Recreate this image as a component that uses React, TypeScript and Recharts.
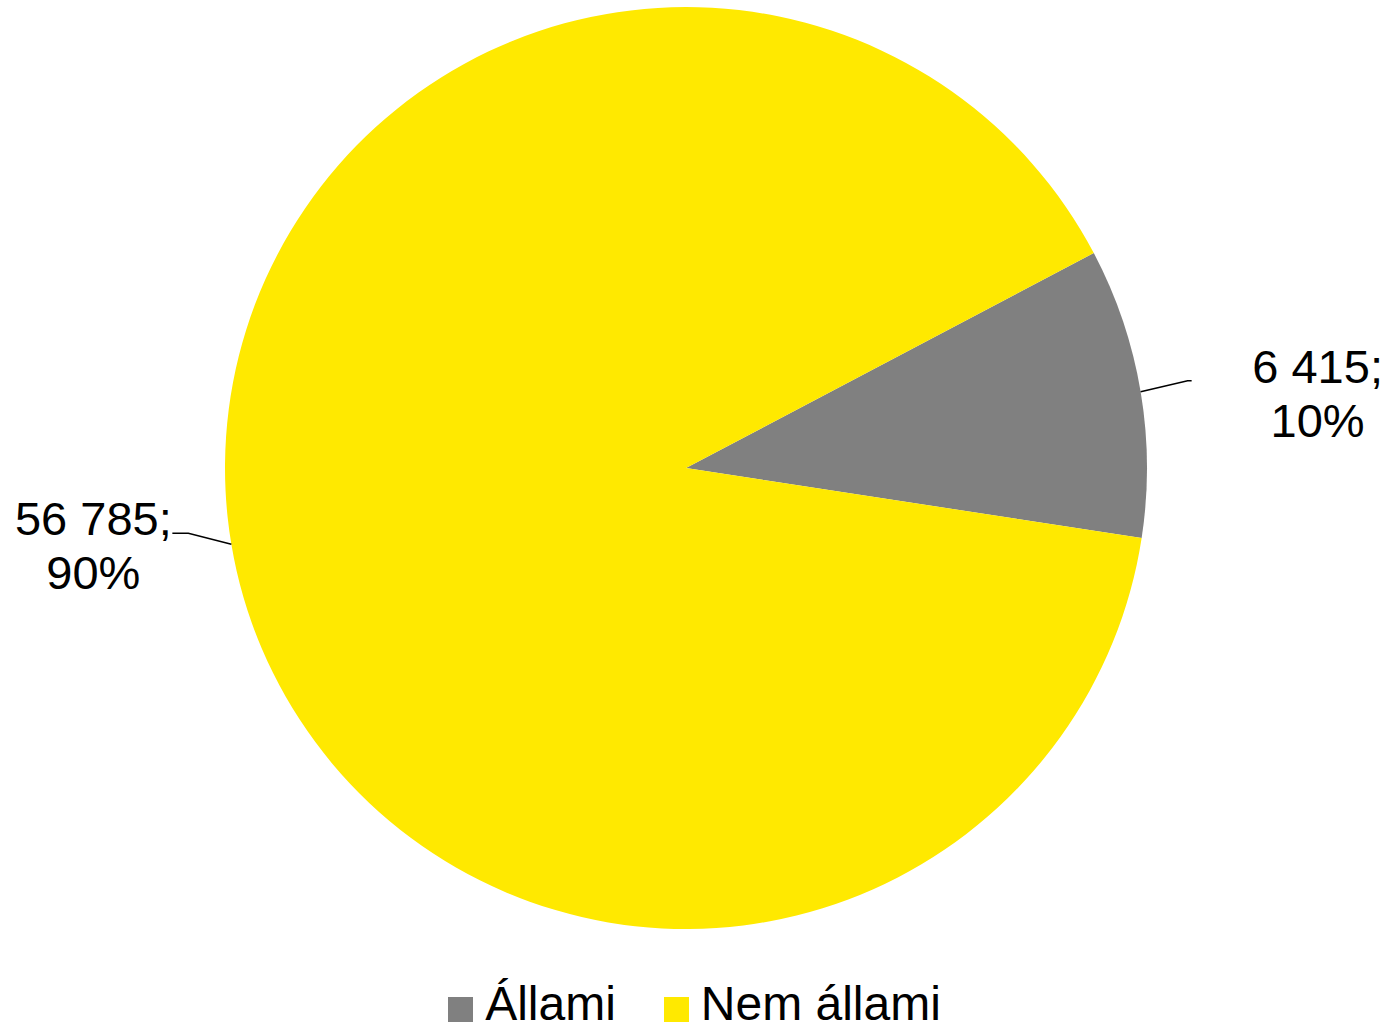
import * as React from 'react';
import { PieChart, Pie, Cell, Legend } from 'recharts';

const CATEGORIES = ['Állami', 'Nem állami'];
const VALUES = [6415, 56785];
const COLORS = ['#808080', '#FFE900'];

const FONT = '"Liberation Sans", Arial, sans-serif';
const RAD = Math.PI / 180;

const chartData = CATEGORIES.map((name, i) => ({ name, value: VALUES[i] }));

const fmt = (v: number): string => String(v).replace(/\B(?=(\d{3})+(?!\d))/g, ' ');

function renderLabel(props: any): React.ReactElement {
  const { cx, cy, midAngle, outerRadius, value, percent } = props;
  const cos = Math.cos(-midAngle * RAD);
  const sin = Math.sin(-midAngle * RAD);
  const sx = cx + outerRadius * cos;
  const sy = cy + outerRadius * sin;
  const right = cos >= 0;
  const mx = sx + (right ? 47 : -43);
  const my = sy - 11;
  const ex = mx + (right ? 4 : -16);
  const tx = right ? mx + 130 : mx - 95;
  return (
    <g>
      <polyline points={`${sx},${sy} ${mx},${my} ${ex},${my}`} fill="none" stroke="#000" strokeWidth={1.5} />
      <text x={tx} y={my + 2} textAnchor="middle" fontSize={47} fontFamily={FONT} fill="#000">
        {`${fmt(value)};`}
      </text>
      <text x={tx} y={my + 56} textAnchor="middle" fontSize={47} fontFamily={FONT} fill="#000">
        {`${Math.round(percent * 100)}%`}
      </text>
    </g>
  );
}

function LegendContent(): React.ReactElement {
  return (
    <div style={{ display: 'flex', justifyContent: 'center', alignItems: 'center', fontFamily: FONT, fontSize: 48, lineHeight: '48px' }}>
      {CATEGORIES.map((name, i) => (
        <div key={name} style={{ display: 'flex', alignItems: 'center', marginLeft: i === 0 ? 0 : 48 }}>
          <span style={{ display: 'inline-block', width: 25, height: 25, background: COLORS[i], marginRight: 12, marginTop: 10 }} />
          <span style={{ color: '#000' }}>{name}</span>
        </div>
      ))}
    </div>
  );
}

export default function App(): React.ReactElement {
  return (
    <div style={{ position: 'absolute', left: 0, top: 0, width: 1389, height: 1029, background: '#fff' }}>
      <PieChart width={1389} height={1029} margin={{ top: 0, right: 0, bottom: 0, left: 0 }}>
        <Pie
          data={chartData}
          dataKey="value"
          nameKey="name"
          cx={686}
          cy={468}
          outerRadius={461}
          startAngle={27.8}
          endAngle={-332.2}
          stroke="none"
          label={renderLabel}
          labelLine={false}
          isAnimationActive={false}
        >
          {chartData.map((entry, idx) => (
            <Cell key={`cell-${idx}`} fill={COLORS[idx]} />
          ))}
        </Pie>
        <Legend content={LegendContent} wrapperStyle={{ top: 980, left: 0, width: 1389 }} />
      </PieChart>
    </div>
  );
}
